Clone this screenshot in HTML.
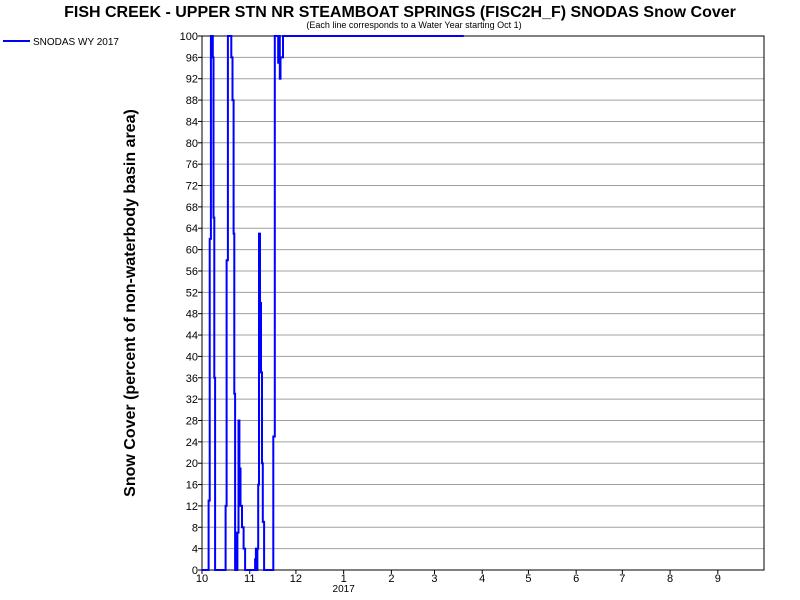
<!DOCTYPE html>
<html><head><meta charset="utf-8"><style>
body{margin:0;background:#fff;}
svg{display:block;font-family:"Liberation Sans",sans-serif;}
</style></head><body>
<svg id="chart" width="800" height="600">
<text x="400" y="17" text-anchor="middle" font-size="16" font-weight="bold">FISH CREEK - UPPER STN NR STEAMBOAT SPRINGS (FISC2H_F) SNODAS Snow Cover</text>
<text x="414" y="28" text-anchor="middle" font-size="9">(Each line corresponds to a Water Year starting Oct 1)</text>
<text transform="translate(135,303) rotate(-90)" text-anchor="middle" font-size="16" font-weight="bold">Snow Cover (percent of non-waterbody basin area)</text>
<g>
<line x1="3" y1="41" x2="30" y2="41" stroke="#0000ff" stroke-width="2"/>
<text x="33" y="45" font-size="10">SNODAS WY 2017</text>
</g>
<g id="grid"></g><g id="series"></g><g id="axes"></g>
</svg>
<script>
const yTicks=[0,4,8,12,16,20,24,28,32,36,40,44,48,52,56,60,64,68,72,76,80,84,88,92,96,100];
const monthLabels=["10","11","12","1","2","3","4","5","6","7","8","9"];
const monthStartDays=[0,31,61,92,123,151,182,212,243,273,304,335];
const seriesDays=[0,4,4.3,5,5.8,6.5,7,7.5,8,8.5,15,15.3,16,16.8,18.5,19,19.8,20.5,21,21.5,22,22.5,23,23.7,24.3,25,26,27,28,34,34.5,35,35.5,36,36.5,37,37.7,38.3,39,39.5,40.3,46,46.3,47.3,49,49.5,50,50.5,51,52.6,170];
const seriesValues=[0,0,13,62,100,100,96,66,36,0,0,12,58,100,100,96,88,63,33,0,7,0,7,28,19,12,8,4,0,0,2,4,0,4,16,63,50,37,20,9,0,0,25,100,100,95,100,92,96,100,100];
const L=202,R=764,T=36,B=570;
const xs=d=>L+d*(R-L)/365;
const ys=v=>B-v*(B-T)/100;
const NS="http://www.w3.org/2000/svg";
function mk(t,a,p){const e=document.createElementNS(NS,t);for(const k in a)e.setAttribute(k,a[k]);p.appendChild(e);return e;}
const grid=document.getElementById('grid'),axes=document.getElementById('axes'),ser=document.getElementById('series');
yTicks.forEach(v=>{
 if(v>0&&v<100){const g=mk('line',{x1:L,x2:R,y1:ys(v),y2:ys(v),stroke:'#a0a0a0','stroke-width':1},grid);
 
 }
 const tk=mk('line',{x1:L-4,x2:L,y1:ys(v),y2:ys(v),stroke:'#000'},axes);
 
 
 const t=mk('text',{x:L-4,y:ys(v)+4,'text-anchor':'end','font-size':11},axes);t.textContent=v;
 
 
});
monthStartDays.forEach((d,i)=>{
 const tk=mk('line',{x1:xs(d),x2:xs(d),y1:B,y2:B+4,stroke:'#000'},axes);
 
 
 const t=mk('text',{x:xs(d),y:B+12,'text-anchor':'middle','font-size':11},axes);t.textContent=monthLabels[i];
 
 
});
const yr=mk('text',{x:xs(92),y:B+22,'text-anchor':'middle','font-size':10},axes);yr.textContent='2017';


const fr=mk('rect',{x:L,y:T,width:R-L,height:B-T,fill:'none',stroke:'#000','stroke-width':1},axes);


let dpath='M'+xs(seriesDays[0]).toFixed(1)+','+ys(seriesValues[0]).toFixed(1);
for(let i=1;i<seriesDays.length;i++){
 dpath+=' H'+xs(seriesDays[i]).toFixed(1)+' V'+ys(seriesValues[i]).toFixed(1);
}
const pl=mk('path',{d:dpath,fill:'none',stroke:'#0000ff','stroke-width':2},ser);


document.getElementById('chart').appendChild(ser);
</script>
</body></html>
